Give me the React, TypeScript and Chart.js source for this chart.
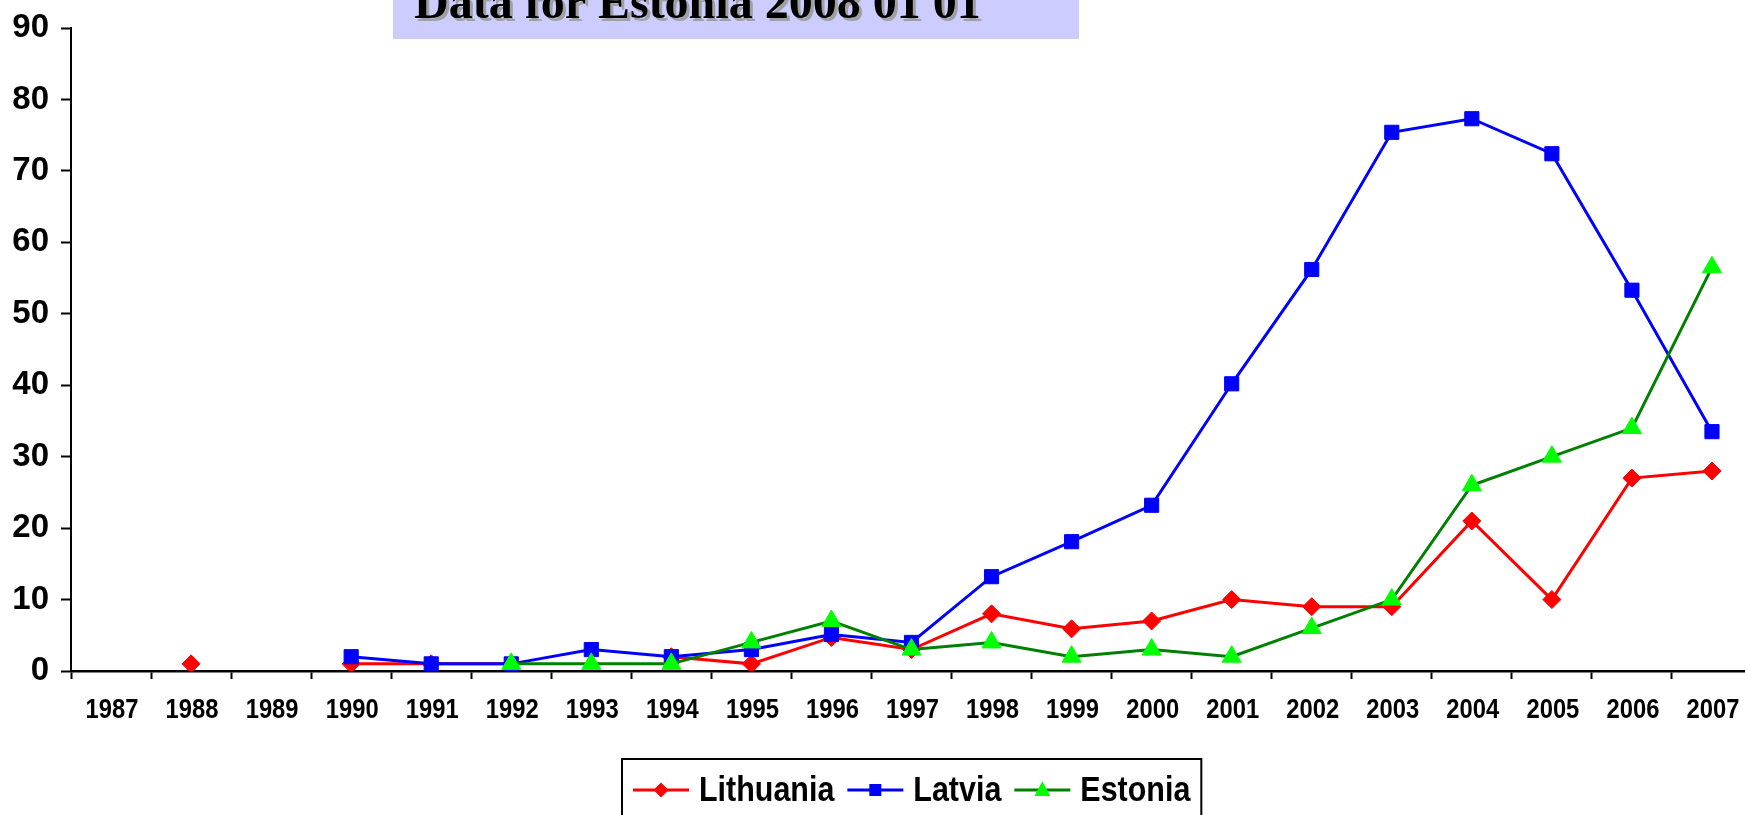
import React, { useEffect, useRef } from 'react';
import { Chart, registerables } from 'chart.js';

Chart.register(...registerables);

// ---- data ----
const years = [
  '1987', '1988', '1989', '1990', '1991', '1992', '1993', '1994', '1995', '1996', '1997',
  '1998', '1999', '2000', '2001', '2002', '2003', '2004', '2005', '2006', '2007',
];
const lithuania = [null, 1, null, 1, 1, 1, null, 2, 1, 4.7, 3, 8, 5.9, 7, 10, 9, 9, 21, 10, 27, 28];
const latvia = [null, null, null, 2, 1, 1, 3, 2, 3, 5.1, 4, 13.2, 18.1, 23.2, 40.2, 56.2, 75.4, 77.3, 72.4, 53.3, 33.5];
const estonia = [null, null, null, null, null, 1, 1, 1, 4, 7, 3, 4, 2, 3, 2, 6, 10, 26, 30, 34, 56.5];
const seriesNames = ['Lithuania', 'Latvia', 'Estonia'];
const yMin = 0;
const yMax = 90;
const yStep = 10;
const titleText = 'Data for Estonia 2008 01 01';

const RED = '#FF0000';
const BLUE = '#0000FF';
const GREEN_LINE = '#008000';
const GREEN_MARK = '#00FF00';
const SANS = '"Liberation Sans", Arial, sans-serif';

function drawMarker(ctx: CanvasRenderingContext2D, kind: string, x: number, y: number, r: number, color: string) {
  ctx.fillStyle = color;
  ctx.beginPath();
  if (kind === 'diamond') {
    ctx.moveTo(x, y - r);
    ctx.lineTo(x + r, y);
    ctx.lineTo(x, y + r);
    ctx.lineTo(x - r, y);
  } else if (kind === 'square') {
    ctx.rect(x - r, y - r, 2 * r, 2 * r);
  } else {
    ctx.moveTo(x, y - r * 1.1);
    ctx.lineTo(x + r, y + r * 0.75);
    ctx.lineTo(x - r, y + r * 0.75);
  }
  ctx.closePath();
  ctx.fill();
}

const overlayPlugin = {
  id: 'overlay',
  afterDraw(chart: any) {
    const ctx: CanvasRenderingContext2D = chart.ctx;
    ctx.save();

    // x tick labels (condensed, through the category scale)
    const xs = chart.scales.x;
    ctx.font = `bold 28px ${SANS}`;
    ctx.fillStyle = '#000';
    ctx.textAlign = 'center';
    ctx.textBaseline = 'middle';
    years.forEach((lab, i) => {
      const px = xs.getPixelForTick(i);
      ctx.save();
      ctx.translate(px + 1, 710);
      ctx.scale(0.85, 1);
      ctx.fillText(lab, 0, 0);
      ctx.restore();
    });

    // title box
    ctx.fillStyle = '#CCCCFF';
    ctx.fillRect(393, 0, 686, 39);
    ctx.font = 'bold 48px "Liberation Serif", "Times New Roman", serif';
    ctx.textBaseline = 'alphabetic';
    ctx.textAlign = 'left';
    ctx.fillStyle = '#a0a0a0';
    ctx.fillText(titleText, 417, 21);
    ctx.fillStyle = '#000000';
    ctx.fillText(titleText, 414, 18);

    // legend
    const items = [
      { name: seriesNames[0], line: RED, mark: RED, kind: 'diamond', r: 7.5 },
      { name: seriesNames[1], line: BLUE, mark: BLUE, kind: 'square', r: 6 },
      { name: seriesNames[2], line: GREEN_LINE, mark: GREEN_MARK, kind: 'triangle', r: 8 },
    ];
    const cy = 790;
    const boxLeft = 622;
    const sx = 0.87;
    let x = 633;
    ctx.font = `bold 35px ${SANS}`;
    ctx.textBaseline = 'middle';
    items.forEach((it) => {
      ctx.strokeStyle = it.line;
      ctx.lineWidth = 3;
      ctx.beginPath();
      ctx.moveTo(x, cy);
      ctx.lineTo(x + 56, cy);
      ctx.stroke();
      drawMarker(ctx, it.kind, x + 28, cy, it.r, it.mark);
      ctx.fillStyle = '#000';
      ctx.save();
      ctx.translate(x + 66, cy + 1);
      ctx.scale(sx, 1);
      ctx.fillText(it.name, 0, 0);
      ctx.restore();
      x = x + 66 + ctx.measureText(it.name).width * sx + 13;
    });
    ctx.strokeStyle = '#000';
    ctx.lineWidth = 2;
    ctx.strokeRect(boxLeft, 759, x - 2 - boxLeft, 80);
    ctx.restore();
  },
};

export default function App() {
  const ref = useRef<HTMLCanvasElement | null>(null);

  useEffect(() => {
    if (!ref.current) return;
    const chart = new Chart(ref.current, {
      type: 'line',
      data: {
        labels: years,
        datasets: [
          {
            label: seriesNames[0],
            data: lithuania,
            borderColor: RED,
            backgroundColor: RED,
            pointBackgroundColor: RED,
            pointBorderColor: RED,
            pointStyle: 'rectRot',
            pointRadius: 9,
            pointBorderWidth: 1,
            borderWidth: 3,
            spanGaps: false,
            order: 2,
          },
          {
            label: seriesNames[1],
            data: latvia,
            borderColor: BLUE,
            backgroundColor: BLUE,
            pointBackgroundColor: BLUE,
            pointBorderColor: BLUE,
            pointStyle: 'rect',
            pointRadius: 10,
            pointBorderWidth: 1,
            borderWidth: 3,
            spanGaps: false,
            order: 1,
          },
          {
            label: seriesNames[2],
            data: estonia,
            borderColor: GREEN_LINE,
            backgroundColor: GREEN_MARK,
            pointBackgroundColor: GREEN_MARK,
            pointBorderColor: GREEN_MARK,
            pointStyle: 'triangle',
            pointRadius: 11,
            pointBorderWidth: 1,
            borderWidth: 3,
            spanGaps: false,
            order: 0,
          },
        ],
      },
      options: {
        animation: false,
        responsive: false,
        maintainAspectRatio: false,
        layout: { autoPadding: false, padding: { top: 28, left: 0, right: 1, bottom: 0 } },
        plugins: {
          legend: { display: false },
          tooltip: { enabled: false },
          title: { display: false },
        },
        elements: { line: { tension: 0 } },
        scales: {
          x: {
            type: 'category',
            offset: true,
            grid: {
              offset: true,
              drawOnChartArea: false,
              drawTicks: true,
              tickLength: 8,
              tickColor: '#000',
              tickWidth: 2,
            },
            border: { display: true, color: '#000', width: 2.5 },
            ticks: {
              display: false,
              autoSkip: false,
              maxRotation: 0,
              minRotation: 0,
            },
            afterFit: (scale: any) => {
              scale.height = 144;
              scale.paddingLeft = 0;
              scale.paddingRight = 0;
            },
          },
          y: {
            min: yMin,
            max: yMax,
            grid: {
              drawOnChartArea: false,
              drawTicks: true,
              tickLength: 10,
              tickColor: '#000',
              tickWidth: 2,
            },
            border: { display: true, color: '#000', width: 2 },
            ticks: {
              stepSize: yStep,
              color: '#000',
              padding: 12,
              font: { family: SANS, size: 33, weight: 'bold' },
            },
            afterFit: (scale: any) => {
              scale.width = 71;
              scale.paddingTop = 0;
              scale.paddingBottom = 0;
            },
          },
        },
      },
      plugins: [overlayPlugin],
    });
    return () => chart.destroy();
  }, []);

  return (
    <div
      style={{
        position: 'fixed',
        left: 0,
        top: 0,
        width: 1745,
        height: 815,
        overflow: 'hidden',
        background: '#fff',
      }}
    >
      <canvas ref={ref} width={1753} height={815} style={{ width: 1753, height: 815, display: 'block' }} />
    </div>
  );
}
